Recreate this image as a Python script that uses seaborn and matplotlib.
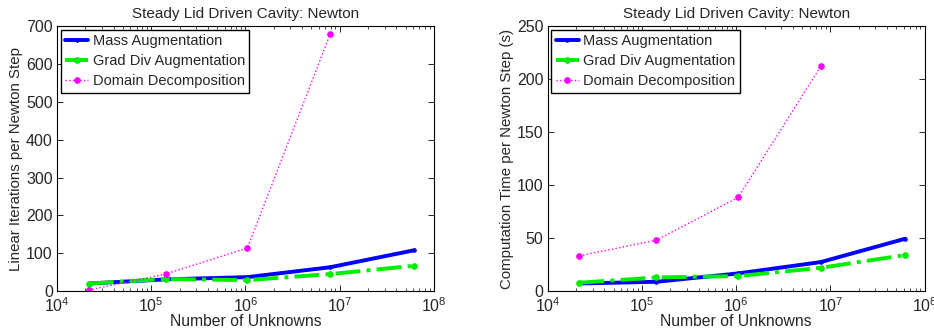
import matplotlib
matplotlib.use("Agg")
import matplotlib.pyplot as plt
import seaborn as sns
import pandas as pd
import numpy as np
from matplotlib.ticker import LogLocator, NullFormatter

sns.set_style("ticks")
plt.rcParams['font.family'] = ['Liberation Sans', 'DejaVu Sans']
plt.rcParams['mathtext.fontset'] = 'custom'
plt.rcParams['mathtext.rm'] = 'Liberation Sans'
plt.rcParams['mathtext.it'] = 'Liberation Sans'

unknowns = [2.17e4, 1.42e5, 1.05e6, 7.9e6, 6.2e7]

iters_mass = [20, 31, 37, 63, 108]
iters_graddiv = [20, 32, 29, 45, 67]
iters_dd = [3, 45, 114, 678]

time_mass = [7.2, 8.8, 16.7, 27.4, 49.4]
time_graddiv = [7.9, 12.9, 14.2, 22, 34]
time_dd = [33.3, 48, 88.4, 212]

series_names = ["Mass Augmentation", "Grad Div Augmentation", "Domain Decomposition"]
styles = {
    "Mass Augmentation": dict(color="#0000ff", ls="-", lw=2.8, ms=5),
    "Grad Div Augmentation": dict(color="#00ee00", ls="-.", lw=2.8, ms=8),
    "Domain Decomposition": dict(color="#ff00ff", ls=":", lw=1.0, ms=8),
}

fig, axes = plt.subplots(1, 2, figsize=(9.34, 3.35), dpi=100)
fig.subplots_adjust(left=0.061, right=0.990, top=0.922, bottom=0.131, wspace=0.302)

panels = [
    (axes[0], [iters_mass, iters_graddiv, iters_dd], "Linear Iterations per Newton Step", (0, 700), 100),
    (axes[1], [time_mass, time_graddiv, time_dd], "Computation Time per Newton Step (s)", (0, 250), 50),
]

for ax, vals, ylabel, ylim, step in panels:
    for name, v in zip(series_names, vals):
        df = pd.DataFrame({"x": unknowns[:len(v)], "y": v})
        st = styles[name]
        sns.lineplot(data=df, x="x", y="y", ax=ax, color=st["color"], linestyle=st["ls"],
                     linewidth=st["lw"], marker=".", markersize=st["ms"],
                     markeredgecolor=st["color"], label=name, sort=False)
    ax.set_xscale("log")
    ax.set_xlim(1e4, 1e8)
    ax.set_ylim(*ylim)
    ax.set_yticks(np.arange(ylim[0], ylim[1] + 1, step))
    ax.xaxis.set_major_locator(LogLocator(base=10, numticks=10))
    ax.xaxis.set_minor_locator(LogLocator(base=10, subs=np.arange(2, 10), numticks=20))
    ax.xaxis.set_minor_formatter(NullFormatter())
    ax.tick_params(direction="in", top=True, right=True, which="both", labelsize=11.5)
    ax.tick_params(axis="x", pad=4)
    ax.tick_params(axis="y", pad=3)
    ax.tick_params(which="major", length=4, width=0.7)
    ax.tick_params(which="minor", length=2, width=0.6)
    for s in ax.spines.values():
        s.set_linewidth(0.8)
        s.set_color("black")
    ax.set_xlabel("Number of Unknowns", fontsize=11.3, labelpad=-1)
    ax.set_ylabel(ylabel, fontsize=10.8, labelpad=2)
    ax.set_title("Steady Lid Driven Cavity: Newton", fontsize=11, pad=6)
    leg = ax.legend(loc="upper left", fontsize=10.5, frameon=True, fancybox=False,
                    edgecolor="black", borderpad=0.3, labelspacing=0.42,
                    handlelength=1.6, handletextpad=0.3, borderaxespad=0.25)
    leg.get_frame().set_linewidth(1.0)
    leg.get_frame().set_alpha(1)

fig.savefig("out.png", dpi=100)
